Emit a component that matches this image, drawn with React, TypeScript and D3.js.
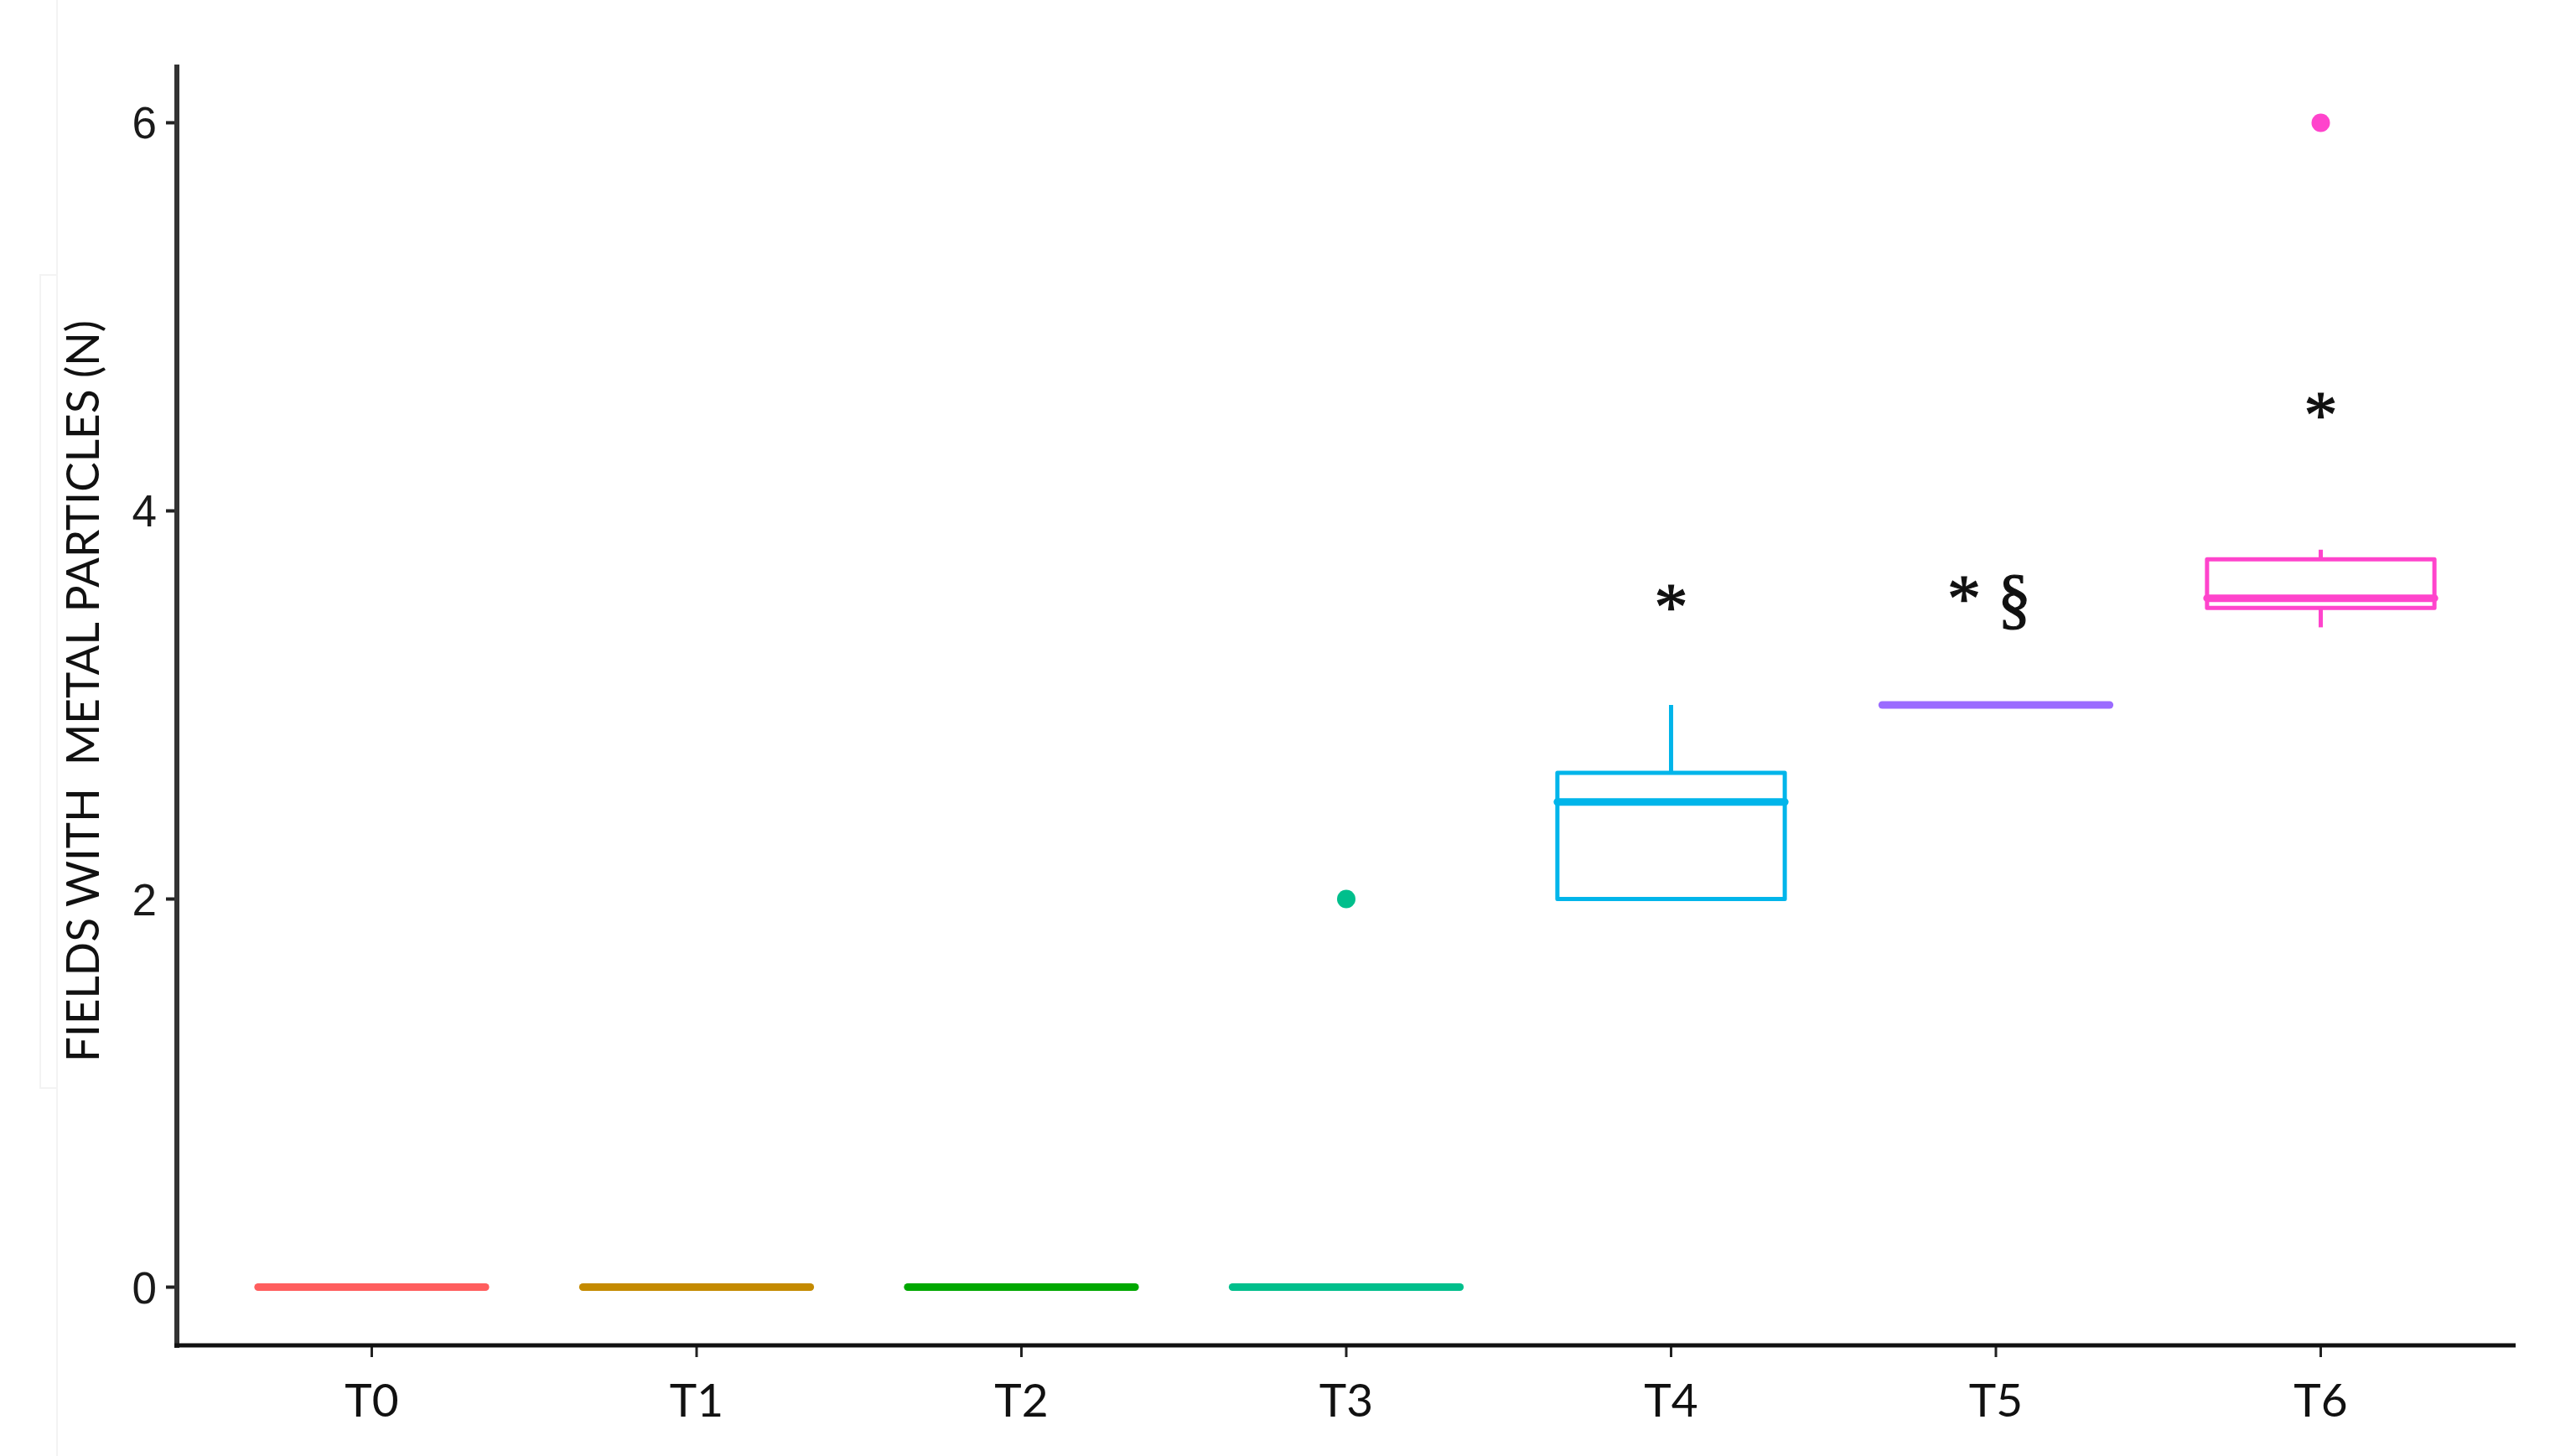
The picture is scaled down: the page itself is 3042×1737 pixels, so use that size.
import { useEffect, useRef } from 'react'
import * as d3 from 'd3'

const categories = ['T0', 'T1', 'T2', 'T3', 'T4', 'T5', 'T6']
const colors = ['#FF5E5E', '#C48A00', '#00A800', '#00BF8C', '#00B5EA', '#9B6BFF', '#FF44CC']
const lower = [0, 0, 0, 0, 2, 3, 3.4]
const q1 = [0, 0, 0, 0, 2, 3, 3.5]
const median = [0, 0, 0, 0, 2.5, 3, 3.55]
const q3 = [0, 0, 0, 0, 2.65, 3, 3.75]
const upper = [0, 0, 0, 0, 3, 3, 3.8]
const outlierCats = ['T3', 'T6']
const outlierVals = [2, 6]
const noteCats = ['T4', 'T5', 'T6']
const noteLabels = ['*', '* §', '*']
const noteVals = [3.39, 3.43, 4.38]
const yTicks = [0, 2, 4, 6]

const W = 3042
const H = 1737

export default function App() {
  const ref = useRef<SVGSVGElement | null>(null)

  useEffect(() => {
    const el = ref.current
    if (!el) return
    const svg = d3.select(el)
    svg.selectAll('*').remove()

    const left = 211
    const right = 3001
    const top = 77
    const bottom = 1605

    // discrete axis with ggplot's 0.6 expansion on each side
    const x = d3.scaleLinear().domain([-0.6, categories.length - 0.4]).range([left, right])
    const xc = (c: string) => x(categories.indexOf(c))
    const y = d3.scaleLinear().domain([-0.3, 6.3]).range([bottom, top])
    const boxW = (x(1) - x(0)) * 0.7

    // faint frame left over from the source figure
    svg.append('line').attr('x1', 68).attr('x2', 68).attr('y1', 0).attr('y2', H)
      .attr('stroke', '#f3f3f3').attr('stroke-width', 2)
    svg.append('rect').attr('x', 48).attr('y', 328).attr('width', 20).attr('height', 970)
      .attr('fill', 'none').attr('stroke', '#f3f3f3').attr('stroke-width', 2)

    const rows = categories.map((c, i) => ({
      c, col: colors[i], lo: lower[i], q1: q1[i], md: median[i], q3: q3[i], hi: upper[i],
    }))

    const g = svg.append('g')
    const box = g.selectAll('g.box').data(rows).join('g').attr('class', 'box')

    box.append('line')
      .attr('x1', (d) => xc(d.c)).attr('x2', (d) => xc(d.c))
      .attr('y1', (d) => y(d.q3)).attr('y2', (d) => y(d.hi))
      .attr('stroke', (d) => d.col).attr('stroke-width', 5)
    box.append('line')
      .attr('x1', (d) => xc(d.c)).attr('x2', (d) => xc(d.c))
      .attr('y1', (d) => y(d.q1)).attr('y2', (d) => y(d.lo))
      .attr('stroke', (d) => d.col).attr('stroke-width', 5)
    box.append('rect')
      .attr('x', (d) => xc(d.c) - boxW / 2)
      .attr('width', boxW)
      .attr('y', (d) => y(d.q3))
      .attr('height', (d) => y(d.q1) - y(d.q3))
      .attr('fill', '#fff').attr('stroke', (d) => d.col).attr('stroke-width', 5)
      .attr('stroke-linejoin', 'round')
    box.append('line')
      .attr('x1', (d) => xc(d.c) - boxW / 2).attr('x2', (d) => xc(d.c) + boxW / 2)
      .attr('y1', (d) => y(d.md)).attr('y2', (d) => y(d.md))
      .attr('stroke', (d) => d.col).attr('stroke-width', 9).attr('stroke-linecap', 'round')

    const outs = outlierCats.map((c, i) => ({ c, v: outlierVals[i], col: colors[categories.indexOf(c)] }))
    g.selectAll('circle.out').data(outs).join('circle').attr('class', 'out')
      .attr('cx', (d) => xc(d.c)).attr('cy', (d) => y(d.v)).attr('r', 11)
      .attr('fill', (d) => d.col)

    const notes = noteCats.map((c, i) => ({ c, t: noteLabels[i], v: noteVals[i] }))
    g.selectAll('text.note').data(notes).join('text').attr('class', 'note')
      .attr('x', (d) => xc(d.c) - (d.t.length > 1 ? 8 : 0)).attr('y', (d) => y(d.v))
      .attr('text-anchor', 'middle')
      .attr('font-family', '"Liberation Serif", serif').attr('font-size', 80)
      .attr('fill', '#111').attr('stroke', '#111').attr('stroke-width', 1.2)
      .attr('xml:space', 'preserve')
      .text((d) => d.t)

    // axes
    const ax = svg.append('g')
    ax.selectAll('line.yt').data(yTicks).join('line').attr('class', 'yt')
      .attr('x1', left - 13).attr('x2', left).attr('y1', (d) => y(d)).attr('y2', (d) => y(d))
      .attr('stroke', '#222').attr('stroke-width', 4)
    ax.selectAll('text.yl').data(yTicks).join('text').attr('class', 'yl')
      .attr('x', left - 24).attr('y', (d) => y(d) + 19)
      .attr('text-anchor', 'end')
      .attr('font-family', '"Liberation Sans", Arial, sans-serif').attr('font-size', 53)
      .attr('fill', '#1a1a1a')
      .text((d) => d)
    ax.selectAll('line.xt').data(categories).join('line').attr('class', 'xt')
      .attr('x1', (d) => xc(d)).attr('x2', (d) => xc(d)).attr('y1', bottom).attr('y2', bottom + 14)
      .attr('stroke', '#222').attr('stroke-width', 3)
    ax.selectAll('text.xl').data(categories).join('text').attr('class', 'xl')
      .attr('x', (d) => xc(d)).attr('y', 1690)
      .attr('text-anchor', 'middle')
      .attr('font-family', 'Lato, "Open Sans", sans-serif').attr('font-size', 55)
      .attr('fill', '#111')
      .text((d) => d)
    ax.append('line').attr('x1', left).attr('x2', left).attr('y1', top).attr('y2', bottom + 3)
      .attr('stroke', '#333').attr('stroke-width', 6)
    ax.append('line').attr('x1', left - 3).attr('x2', right).attr('y1', bottom).attr('y2', bottom)
      .attr('stroke', '#111').attr('stroke-width', 5)

    svg.append('text')
      .attr('transform', `translate(118,${(382 + 1267) / 2}) rotate(-90)`)
      .attr('text-anchor', 'middle')
      .attr('font-family', 'Lato, "Open Sans", sans-serif').attr('font-size', 55)
      .attr('fill', '#111')
      .attr('xml:space', 'preserve')
      .attr('textLength', 885).attr('lengthAdjust', 'spacingAndGlyphs')
      .text('FIELDS WITH  METAL PARTICLES (N)')
  }, [])

  return (
    <svg
      ref={ref}
      width={W}
      height={H}
      style={{ position: 'absolute', left: 0, top: 0, background: '#fff' }}
    />
  )
}
